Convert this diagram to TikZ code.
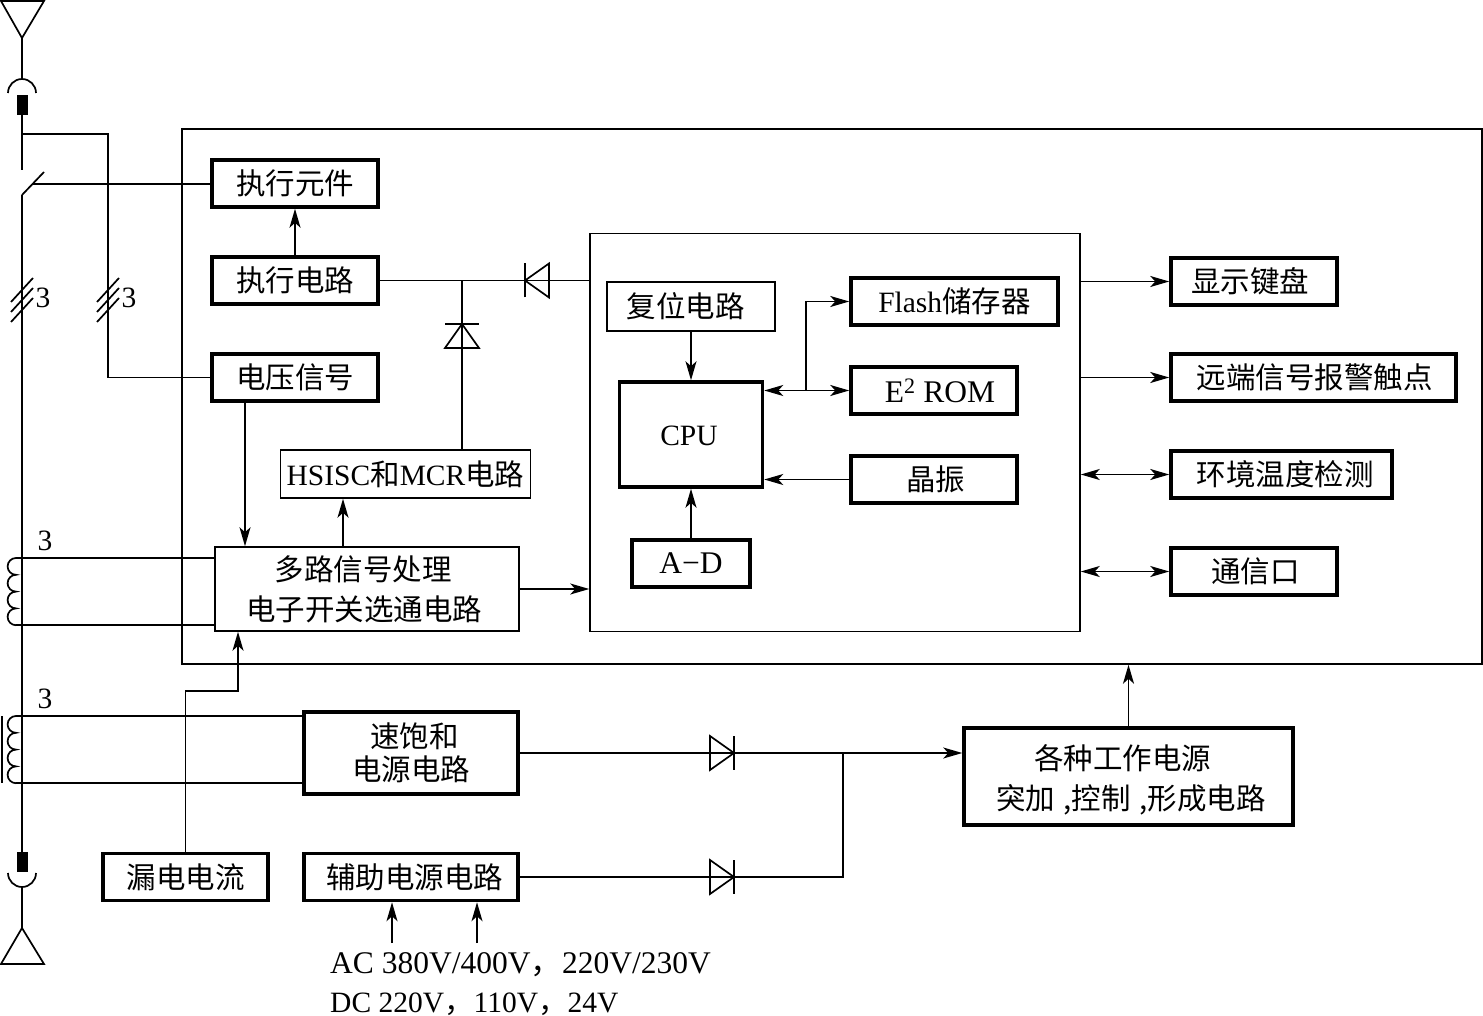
\documentclass[tikz,border=0pt]{standalone}
\usepackage{fontspec}
\setmainfont{Liberation Serif}
\newfontfamily\cjk{Noto Sans CJK SC}
\usetikzlibrary{arrows.meta}
\newcommand{\zh}[1]{{\cjk #1}}
\newcommand{\nudge}[1]{\hspace*{#1pt}}
\tikzset{
  wire/.style={line width=1.7pt},
  sig/.style={wire,-{Stealth[length=19pt,width=11pt,inset=5pt]}},
  duplex/.style={wire,{Stealth[length=19pt,width=11pt,inset=5pt]}-{Stealth[length=19pt,width=11pt,inset=5pt]}},
  heavybox/.style={draw,line width=3.5pt,inner sep=0pt},
  lightbox/.style={draw,line width=1.5pt,inner sep=0pt},
  biglatin/.style={font=\fontsize{31.5}{40}\selectfont},
  diode/.pic={
    \draw[wire] (-12,-17) -- (-12,17) -- (12,0) -- cycle;
    \draw[wire] (12,-17) -- (12,17);
  },
  coil/.pic={
    \draw[wire] (0,0) arc[start angle=90,end angle=270,radius=8.4pt]
      arc[start angle=90,end angle=270,radius=8.4pt]
      arc[start angle=90,end angle=270,radius=8.4pt]
      arc[start angle=90,end angle=270,radius=8.4pt];
  }
}
\begin{document}
\begin{tikzpicture}[x=1pt,y=-1pt, every node/.style={font=\fontsize{29.5}{40}\selectfont, align=center}]
  \useasboundingbox (0,0) rectangle (1483,1016);
  % frames
  \node[lightbox, minimum width=1300, minimum height=535] (outer) at (832,396.5) {};
  \node[lightbox, minimum width=490, minimum height=398] (mcu) at (835,432.5) {};

  % left column
  \node[heavybox, minimum width=166, minimum height=47] (exec) at (295,183.5) {\zh{执行元件}};
  \node[heavybox, minimum width=166, minimum height=47] (drive) at (295,280.5) {\zh{执行电路}};
  \node[heavybox, minimum width=166, minimum height=47] (vsig) at (295,377.5) {\zh{电压信号}};
  \node[lightbox, minimum width=250, minimum height=48] (hsisc) at (405.5,474) {HSISC\zh{和}MCR\zh{电路}};
  \node[lightbox, minimum width=304, minimum height=84] (mux) at (367,589) {\zh{多路信号处理}\nudge{8}\\\zh{电子开关选通电路}\nudge{6}};

  % inside the controller
  \node[lightbox, minimum width=168, minimum height=49] (reset) at (691,306.5) {\zh{复位电路}\nudge{11}};
  \node[heavybox, minimum width=143, minimum height=105] (cpu) at (691,434.5) {};
  \node[] (cputxt) at (689,436) {CPU};
  \node[heavybox, minimum width=207, minimum height=47] (flash) at (954.5,301.5) {Flash\zh{储存器}};
  \node[heavybox, minimum width=166, minimum height=47] (eeprom) at (934,390.5) {\fontsize{31.5}{40}\selectfont\nudge{12}E\textsuperscript{2} ROM};
  \node[heavybox, minimum width=166, minimum height=47] (xtal) at (934,479.5) {\nudge{3}\zh{晶振}};
  \node[heavybox, minimum width=118, minimum height=47] (adc) at (691,563.5) {\fontsize{31.5}{40}\selectfont A−D};

  % right column
  \node[heavybox, minimum width=166, minimum height=47] (panel) at (1254,281.5) {\zh{显示键盘}\nudge{8}};
  \node[heavybox, minimum width=285, minimum height=47] (alarm) at (1313.5,377.5) {\nudge{2}\zh{远端信号报警触点}};
  \node[heavybox, minimum width=221, minimum height=47] (temp) at (1281.5,474.5) {\nudge{7}\zh{环境温度检测}};
  \node[heavybox, minimum width=166, minimum height=47] (comm) at (1254,571.5) {\nudge{3}\zh{通信口}};

  % supplies
  \node[heavybox, minimum width=214, minimum height=82] (satur) at (411,753) {};
  \node[font=\fontsize{29.5}{33}\selectfont] (saturtxt) at (satur) {\nudge{7}\zh{速饱和}\\\zh{电源电路}};
  \node[heavybox, minimum width=214, minimum height=47] (aux) at (411,877) {\nudge{7}\zh{辅助电源电路}};
  \node[heavybox, minimum width=165, minimum height=47] (leak) at (185.5,877) {\zh{漏电电流}};
  \node[heavybox, minimum width=329, minimum height=97] (psu) at (1128.5,776.5) {};
  \node[] (psutxt) at (1128.5,780) {\zh{各种工作电源}\nudge{12}\\\nudge{5}\zh{突加\nudge{2} ,控制\nudge{2} ,形成电路}};
  \node[biglatin, anchor=base west, inner sep=0pt] (acline) at (330,973) {AC 380V/400V\zh{，}220V/230V};
  \node[anchor=base west, inner sep=0pt] (dcline) at (330,1012) {DC 220V\zh{，}110V\zh{，}24V};

  % main line with its terminals
  \coordinate (lineA) at (22,38);
  \coordinate (lineB) at (22,80);
  \coordinate (lineC) at (22,115);
  \coordinate (lineD) at (22,170);
  \coordinate (lineE) at (22,195);
  \coordinate (lineF) at (22,852);
  \coordinate (lineG) at (22,887);
  \coordinate (lineH) at (22,928);
  \coordinate (tapA) at (22,134);
  \coordinate (tapB) at (108,134);
  \coordinate (swTip) at (44,172);
  \coordinate (swArm) at (33,184);
  \draw[wire] (1,1) -- (44,1) -- (lineA) -- cycle;
  \draw[wire] (lineA) -- (lineB);
  \draw[wire] (8,93) arc[start angle=180,end angle=0,radius=14pt];
  \fill (17,95) rectangle (28,115);
  \draw[wire] (lineC) -- (lineD);
  \draw[wire] (lineE) -- (swTip);
  \draw[wire] (lineE) -- (lineF);
  \fill (17,852) rectangle (28,872);
  \draw[wire] (8,873) arc[start angle=180,end angle=360,radius=14pt];
  \draw[wire] (lineG) -- (lineH);
  \draw[wire] (lineH) -- (1,964) -- (44,964) -- cycle;
  \draw[wire] (swArm) -- (swArm -| exec.west);
  \draw[wire] (tapA) -- (tapB) |- (vsig.west);

  % three phase ticks
  \foreach \tx/\tn in {22/tickA,108/tickB} {
    \foreach \ty in {0,10,20}
      \draw[wire] (\tx-11,302+\ty) -- (\tx+11,278+\ty);
    \node[inner sep=0pt] (\tn) at (\tx+21,298) {3};
  }

  % current transformers
  \coordinate (coilAt) at (16,558);
  \coordinate (coilAb) at (16,625);
  \coordinate (coilBt) at (16,716);
  \coordinate (coilBb) at (16,783);
  \pic at (coilAt) {coil};
  \pic at (coilBt) {coil};
  \draw[wire] (coilAt) -- (coilAt -| mux.west);
  \draw[wire] (coilAb) -- (coilAb -| mux.west);
  \draw[wire] (coilBt) -- (coilBt -| satur.west);
  \draw[wire] (coilBb) -- (coilBb -| satur.west);
  \draw[line width=2pt] (1.5,716) -- (1.5,783);
  \node[inner sep=0pt] (countA) at (45,541) {3};
  \node[inner sep=0pt] (countB) at (45,699) {3};

  % left column links
  \draw[sig] (drive.north) -- (exec.south);
  \draw[wire] (drive.east) -- (drive.east -| mcu.west);
  \pic[rotate=180] at (537,280.5) {diode};
  \coordinate (jTrip) at (462,280.5);
  \pic[rotate=90] at (462,336) {diode};
  \draw[wire] ([xshift=56.5pt]hsisc.north) -- (jTrip);
  \draw[sig] ([xshift=-50pt]vsig.south) -- ([xshift=-122pt]mux.north);
  \draw[sig] ([xshift=-24pt]mux.north) -- ([xshift=-24pt]mux.north |- hsisc.south);
  \draw[sig] (mux.east) -- (mux.east -| mcu.west);
  \coordinate (jLeak) at (238,691);
  \draw[sig] (leak.north) |- (jLeak) -- (jLeak |- mux.south);

  % controller links
  \draw[sig] (reset.south) -- (cpu.north);
  \draw[sig] (adc.north) -- (cpu.south);
  \draw[sig] (xtal.west) -- (xtal.west -| cpu.east);
  \draw[duplex] (eeprom.west -| cpu.east) -- (eeprom.west);
  \coordinate (jMem) at (806,390.5);
  \draw[sig] (jMem) |- (flash.west);

  % right column links
  \draw[sig] (panel.west -| mcu.east) -- (panel.west);
  \draw[sig] (alarm.west -| mcu.east) -- (alarm.west);
  \draw[duplex] (temp.west -| mcu.east) -- (temp.west);
  \draw[duplex] (comm.west -| mcu.east) -- (comm.west);

  % supply links
  \draw[sig] (satur.east) -- (satur.east -| psu.west);
  \pic at (722,753) {diode};
  \pic at (722,877) {diode};
  \coordinate (jSup) at (843,753);
  \draw[wire] (aux.east) -| (jSup);
  \draw[sig] (psu.north) -- (psu.north |- outer.south);
  \coordinate (inA) at (392,943);
  \coordinate (inB) at (477,943);
  \draw[sig] (inA) -- (inA |- aux.south);
  \draw[sig] (inB) -- (inB |- aux.south);
\end{tikzpicture}
\end{document}
